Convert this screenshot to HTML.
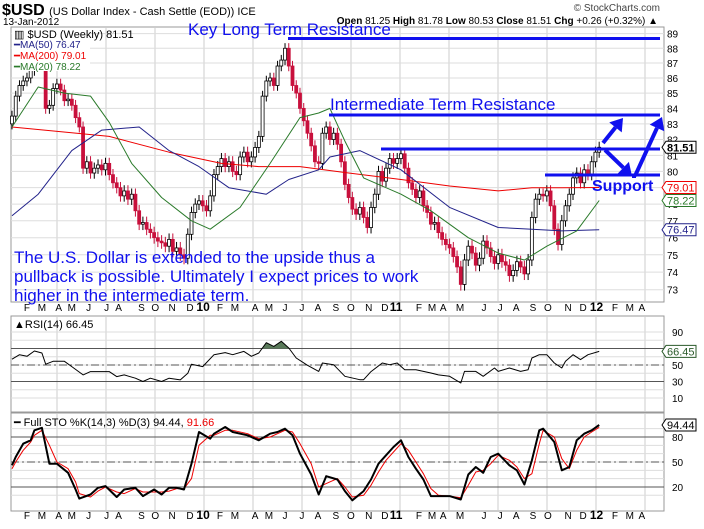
<!DOCTYPE html>
<html><head><meta charset="utf-8"><style>
body{margin:0;background:#fff;}
svg{display:block;font-family:"Liberation Sans",sans-serif;}
</style></head><body>
<svg id="c" width="704" height="529" viewBox="0 0 704 529" xmlns="http://www.w3.org/2000/svg">
<rect x="0" y="0" width="704" height="529" fill="#fff"/>
<g>
<text x="2" y="15" font-size="16" font-weight="bold">$USD <tspan font-size="11" font-weight="normal">(US Dollar Index - Cash Settle (EOD)) ICE</tspan></text>
<text x="3" y="25" font-size="10">13-Jan-2012</text>
<text x="660" y="11" font-size="10" fill="#444" text-anchor="end">© StockCharts.com</text>
<text x="658" y="24" font-size="10" text-anchor="end"><tspan font-weight="bold">Open</tspan> 81.25 <tspan font-weight="bold">High</tspan> 81.78 <tspan font-weight="bold">Low</tspan> 80.53 <tspan font-weight="bold">Close</tspan> 81.51 <tspan font-weight="bold">Chg</tspan> +0.26 (+0.32%) ▲</text>
</g>
<g id="grid"></g>
<g id="marks"></g>
<g id="overlay"></g>
</svg>
<script>
// ---- data ----
const closes=[83.5,84.8,85.5,85.8,86.0,86.5,87.5,88.0,87.5,84.0,
84.2,85.3,85.6,85.2,84.5,84.6,84.2,83.4,82.8,80.2,
80.6,79.9,80.2,80.4,80.1,80.5,79.8,79.3,79.0,78.5,
78.8,78.3,78.6,77.6,76.8,76.9,76.5,76.3,76.0,75.8,
75.7,75.5,75.9,75.2,75.4,75.0,74.8,76.2,77.5,
78.0,78.2,77.9,77.6,78.5,79.8,80.3,80.8,80.3,80.6,80.0,
79.8,80.9,81.2,80.6,80.9,81.5,82.2,84.8,85.8,86.0,85.5,
86.8,87.2,88.0,86.8,85.5,85.0,84.0,83.2,82.4,81.6,80.6,80.5,
82.4,82.8,82.0,82.4,81.7,80.6,79.2,78.4,77.7,77.4,77.8,77.2,76.6,
77.8,78.6,80.0,79.4,80.2,80.8,80.5,80.8,81.1,80.2,79.3,
78.9,78.4,78.8,77.9,77.5,76.8,76.9,76.3,75.9,75.6,75.4,74.9,74.3,
73.3,74.7,75.5,75.1,74.4,74.8,75.8,75.4,74.9,74.5,75.0,74.6,
74.4,73.8,74.1,74.6,74.3,73.9,74.7,77.2,78.3,78.6,78.5,
78.8,77.9,76.5,75.6,77.0,77.9,78.6,79.6,79.9,79.3,80.1,79.8,80.6,81.2,81.51];
const ma200Week=[0,26,42,56,66,77,90,104,117,130,139,147,157];
const ma200Val=[82.8,82.2,81.2,80.5,80.3,80.3,79.9,79.5,79.1,78.8,79.0,79.0,79.01];
const ma50Week=[0,7,16,24,34,42,50,58,68,74,82,85,93,104,117,130,139,147,157];
const ma50Val=[77.3,78.6,81.3,82.6,82.8,81.3,80.3,79.0,78.6,79.5,80.1,80.9,81.3,80.1,77.8,76.6,76.5,76.4,76.47];
const ma20Week=[0,7,14,21,26,32,40,48,53,61,69,77,82,85,89,94,104,112,122,130,137,143,151,157];
const ma20Val=[82.8,85.4,85.0,84.8,83.1,80.5,78.4,77.0,76.5,77.8,80.5,83.4,83.7,84.0,81.9,79.6,78.6,77.6,76.0,75.1,74.7,75.5,76.4,78.22];
const rsiWeek=[0,2,4,6,8,9,11,14,16,19,21,26,28,30,33,35,37,40,42,45,47,48,51,54,57,59,62,64,66,68,70,72,74,76,79,82,83,86,89,93,94,96,99,101,103,105,108,112,114,117,120,121,124,126,129,130,133,136,138,139,141,143,145,147,148,150,152,154,157];
const rsiVal=[57,62.5,60.5,67,64.5,51,54.5,54.5,48,38,42,42,36,38,34,30,34,30,34,32,40,51,48,62.5,65,62.5,66.5,60.5,64.5,77,72.6,78.7,70.6,58.5,49.6,42.3,52.4,50.4,36.3,32.2,32.2,42,52.4,50.4,52.4,44.3,44.3,40.3,38,36.3,28.2,42.3,42.3,36.3,46.4,42.3,46.4,42.3,44.3,58.5,62.5,62.5,52.4,46.4,54.5,62.5,56.5,62.5,66.45];
const stoWeek=[0,1,3,5,6,8,10,12,15,17,18,21,23,25,28,30,33,35,38,40,42,44,46,48,50,53,54,57,59,63,66,69,71,73,75,77,80,82,84,87,89,91,94,96,98,100,102,104,106,108,110,112,114,117,120,122,124,126,128,130,133,135,137,139,141,142,145,147,149,151,153,155,157];
const stoK=[46,56,72,76,88,91,48,48,37,17,6,11,19,21,8,17,19,9,17,11,19,19,17,48,86,78,84,92,86,82,76,84,86,90,82,60,35,11,33,29,15,4,15,29,48,58,68,76,56,42,29,9,9,9,5,35,44,37,56,60,46,40,23,52,88,90,74,40,44,76,84,88,94.44];
const stoD=[42,50,64,74,82,88,70,50,42,26,12,8,15,20,14,12,18,14,14,14,15,18,18,30,70,82,82,88,88,84,78,80,84,88,86,72,48,20,24,30,20,8,10,22,38,52,62,72,64,50,36,18,10,9,7,22,38,40,48,58,52,44,30,36,72,88,80,54,42,64,80,86,91.66];
const monthLabels=["F","M","A","M","J","J","A","S","O","N","D","10","F","M","A","M","J","J","A","S","O","N","D","11","F","M","A","M","J","J","A","S","O","N","D","12","F","M","A"];
const monthWeek=[4.0,8.0,12.5,16.0,20.5,25.3,28.5,34.6,38.3,42.8,47.6,51.1,55.6,59.6,65,68.7,73,77.5,81.8,86.6,90.6,95.4,99.7,102.7,108.8,112.3,115.3,119.8,126.2,130.5,134.8,139.3,143.3,148.7,152.7,156.3,161.2,165.2,168.4];
const priceTicks=[73,74,75,76,77,78,79,80,81,82,83,84,85,86,87,88,89];
const rsiTicks=[90,50,30,10];
const stoTicks=[80,50,20];

// ---- scales ----
const L=11,R=664, MT=27,MB=302, RT=316,RB=412, ST=413,SB=511;
const xW=w=>12+3.74*w;
const yP=p=>5833-1292*Math.log(p);
const yR=v=>332+(90-v)*0.825;
const yS=v=>437+(80-v)*0.833;
const NS="http://www.w3.org/2000/svg";
function mk(tag,attrs,parent,txt){const e=document.createElementNS(NS,tag);for(const k in attrs)e.setAttribute(k,attrs[k]);if(txt!==undefined)e.textContent=txt;parent.appendChild(e);return e;}
const G=document.getElementById('grid'),M=document.getElementById('marks'),O=document.getElementById('overlay');

[[MT,MB,'price-panel'],[RT,RB,'rsi-panel'],[ST,SB,'stochastic-panel']].forEach(([t,b,n])=>{
 const r=mk('rect',{x:L,y:t,width:R-L,height:b-t,fill:'#fff',stroke:'#999'},G);
 
 
 for(let k=0;k<=12;k++){const x=57+49*k;mk('line',{x1:x,x2:x,y1:t,y2:b,stroke:'#ccc'},G);}
});
for(let p=73;p<=89;p++){mk('line',{x1:L,x2:R,y1:yP(p),y2:yP(p),stroke:'#ddd'},G);}
for(let v=10;v<=90;v+=10){mk('line',{x1:L,x2:R,y1:yR(v),y2:yR(v),stroke:'#ddd'},G);}
for(let v=10;v<=90;v+=10){mk('line',{x1:L,x2:R,y1:yS(v),y2:yS(v),stroke:'#ddd'},G);}
[yR(70),yR(30),yS(80),yS(20)].forEach(y=>mk('line',{x1:L,x2:R,y1:y,y2:y,stroke:'#555'},G));
[yR(50),yS(50)].forEach(y=>mk('line',{x1:L,x2:R,y1:y,y2:y,stroke:'#555','stroke-dasharray':'8,3,2,3'},G));

priceTicks.forEach(p=>{if(p===79)return;const t=mk('text',{x:667,y:yP(p)+4,'font-size':10},G,String(p));
 
 });
rsiTicks.forEach(v=>{const t=mk('text',{x:672,y:yR(v)+4,'font-size':10},G,String(v));
 
 });
stoTicks.forEach(v=>{const t=mk('text',{x:672,y:yS(v)+4,'font-size':10},G,String(v));
 
 });
[311,519].forEach(yy=>{monthLabels.forEach((m,i)=>{const big=m.length>1;
 const t=mk('text',{x:xW(monthWeek[i]),y:yy,'font-size':big?12:10,'font-weight':big?'bold':'normal','text-anchor':'middle'},G,m);
 
 });});

closes.forEach((c,i)=>{
 const o=i===0?83.0:closes[i-1];const h=Math.max(o,c)+0.35,l=Math.min(o,c)-0.35;
 const x=xW(i);const up=c>=o;
 const g=mk('g',{},M);
 
 
 mk('line',{x1:x,x2:x,y1:yP(h),y2:yP(l),stroke:up?'#000':'#c8103c'},g);
 const yt=yP(Math.max(o,c)),yb=yP(Math.min(o,c));
 mk('rect',{x:x-1.5,y:yt,width:3,height:Math.max(1,yb-yt),fill:up?'#fff':'#c8103c',stroke:up?'#000':'#c8103c','stroke-width':0.8},g);
});
function line(ws,vs,ys,color,name,w){
 const pts=ws.map((wk,i)=>xW(wk).toFixed(1)+','+ys(vs[i]).toFixed(1)).join(' ');
 const p=mk('polyline',{points:pts,fill:'none',stroke:color,'stroke-width':w||1,'stroke-linejoin':'round'},M);
 
 
 return pts;
}
line(ma200Week,ma200Val,yP,'#e00','ma200-line');
line(ma50Week,ma50Val,yP,'#22228a','ma50-line');
line(ma20Week,ma20Val,yP,'#2a7a2a','ma20-line');
const cp=mk('clipPath',{id:'ob'},M);mk('rect',{x:L,y:RT,width:R-L,height:yR(70)-RT},cp);
const rpts=rsiWeek.map((wk,i)=>xW(wk).toFixed(1)+','+yR(rsiVal[i]).toFixed(1)).join(' ');
const rf=mk('polygon',{points:rpts+' '+xW(157)+','+yR(70)+' '+xW(0)+','+yR(70),fill:'#5a7a5a','clip-path':'url(#ob)'},M);


line(rsiWeek,rsiVal,yR,'#000','rsi-line');
line(stoWeek,stoD,yS,'#e00','sto-d-line');
line(stoWeek,stoK,yS,'#000','sto-k-line',2);

// legend background
const lb=mk('rect',{x:12,y:28,width:78,height:43,fill:'#fff'},O);


function tx(x,y,s,fs,fill,name,extra){const t=mk('text',Object.assign({x:x,y:y,'font-size':fs,fill:fill},extra||{}),O,s);
 
 return t;}
tx(14,38,'▥ $USD (Weekly) 81.51',11,'#000','price-legend');
tx(14,48,'━MA(50) 76.47',10,'#22228a','ma50-legend');
tx(14,59,'━MA(200) 79.01',10,'#e00','ma200-legend');
tx(14,70,'━MA(20) 78.22',10,'#2a7a2a','ma20-legend');
tx(14,328,'▲RSI(14) 66.45',11,'#000','rsi-legend');
const sl=tx(14,426,'━ Full STO %K(14,3) %D(3) 94.44, ',11,'#000','sto-legend');
mk('tspan',{fill:'#e00'},sl,'91.66');

function tag(y,s,color,name,bold){const g=mk('g',{},O);
 
 
 mk('polygon',{points:`662,${y} 666,${y-6} 696,${y-6} 696,${y+6} 666,${y+6}`,fill:'#fff',stroke:color},g);
 mk('text',{x:667,y:y+4,'font-size':11,fill:color,'font-weight':bold?'bold':'normal'},g,s);}
tag(yP(81.51),'81.51','#000','last-price-tag',true);
tag(yP(79.01),'79.01','#e00','ma200-tag');
tag(yP(78.22),'78.22','#2a7a2a','ma20-tag');
tag(yP(76.47),'76.47','#22228a','ma50-tag');
tag(yR(66.45),'66.45','#2a5a2a','rsi-tag');
tag(yS(94.44),'94.44','#000','sto-tag');

const B='#1010ee';
function hl(x1,y,name){const l=mk('line',{x1:x1,x2:660,y1:y,y2:y,stroke:B,'stroke-width':3},O);
 
 }
hl(288,38.5,'key-resistance-line');
hl(329,115,'intermediate-resistance-line');
hl(381,149,'near-resistance-line');
hl(545,175,'support-line');
tx(188,35,'Key Long Term Resistance',17,B,'key-resistance-label');
tx(330,110,'Intermediate Term Resistance',17,B,'intermediate-resistance-label');
tx(592,191,'Support',16,B,'support-label',{'font-weight':'bold'});
tx(14,263,'The U.S. Dollar is extended to the upside thus a',17,B,'commentary-line-1');
tx(14,282,'pullback is possible. Ultimately I expect prices to work',17,B,'commentary-line-2');
tx(14,301,'higher in the intermediate term.',17,B,'commentary-line-3');
function arrow(x1,y1,x2,y2,name){const g=mk('g',{},O);
 
 
 const a=Math.atan2(y2-y1,x2-x1),L2=12,W=8;
 const bx=x2-L2*Math.cos(a),by=y2-L2*Math.sin(a);
 mk('line',{x1:x1,y1:y1,x2:bx,y2:by,stroke:B,'stroke-width':4},g);
 mk('polygon',{points:`${x2},${y2} ${bx+W*Math.sin(a)},${by-W*Math.cos(a)} ${bx-W*Math.sin(a)},${by+W*Math.cos(a)}`,fill:B},g);}
arrow(603,143,623,118,'up-arrow-1');
arrow(605,150,632,176,'down-arrow');
mk('line',{x1:632,y1:176,x2:636,y2:176,stroke:B,'stroke-width':4},O);
arrow(635,176,662,117,'up-arrow-2');
</script>
</body></html>
